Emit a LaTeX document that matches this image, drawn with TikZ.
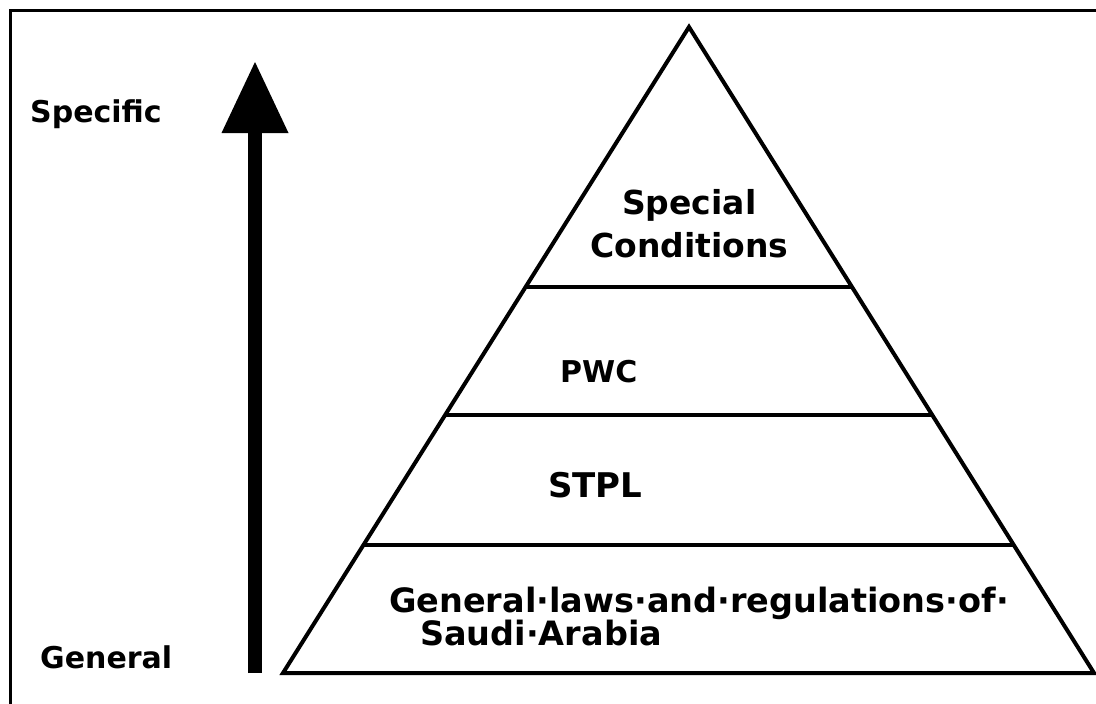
\documentclass[tikz,border=0pt]{standalone}
\usepackage{fontspec}
\setmainfont{DejaVu Sans}
\usetikzlibrary{arrows.meta,calc}
\tikzset{
  lbl/.style={anchor=base west, inner sep=0pt, font=\bfseries},
  edge/.style={line width=4pt, line join=miter},
  bigarrow/.style={line width=14pt, -{Triangle[length=71pt,width=67pt,line width=0pt]}},
}
\begin{document}
\begin{tikzpicture}[x=1pt,y=-1pt]
\useasboundingbox (0,0) rectangle (1096,704);
\clip (0,0) rectangle (1096,704);
\fill[white] (0,0) rectangle (1096,704);
% frame
\draw[line width=3pt] (10.5,10.5) rectangle (1120,730);
% pyramid
\coordinate (apex) at (689,27);
\coordinate (bl) at (283,673);
\coordinate (br) at (1094,673);
\draw[edge] (bl) -- (apex) -- (br) -- cycle;
\coordinate (l1) at ($(apex)!0.4025!(bl)$);
\coordinate (r1) at ($(apex)!0.4025!(br)$);
\coordinate (l2) at ($(apex)!0.6006!(bl)$);
\coordinate (r2) at ($(apex)!0.6006!(br)$);
\coordinate (l3) at ($(apex)!0.8019!(bl)$);
\coordinate (r3) at ($(apex)!0.8019!(br)$);
\draw[edge] (l1) -- (r1);
\draw[edge] (l2) -- (r2);
\draw[edge] (l3) -- (r3);
% arrow
\coordinate (arrbot) at (255,673);
\coordinate (arrtop) at (255,62);
\draw[bigarrow] (arrbot) -- (arrtop);
% labels
\node[lbl, font=\bfseries\fontsize{30}{36}\selectfont] (specific) at (30,122) {Specific};
\node[lbl, font=\bfseries\fontsize{30}{36}\selectfont] (general) at (40,668) {General};
\node[lbl, font=\bfseries\fontsize{33}{40}\selectfont] (special) at (622,214) {Special};
\node[lbl, font=\bfseries\fontsize{33}{40}\selectfont] (conditions) at (590,257) {Conditions};
\node[lbl, font=\bfseries\fontsize{30}{36}\selectfont] (pwc) at (560,382) {PWC};
\node[lbl, font=\bfseries\fontsize{34}{40}\selectfont] (stpl) at (548,497) {STPL};
\node[lbl, font=\bfseries\fontsize{33.5}{40}\selectfont] (gen1) at (389,612) {General·laws·and·regulations·of·};
\node[lbl, font=\bfseries\fontsize{33.5}{40}\selectfont] (gen2) at (420,645) {Saudi·Arabia};
\end{tikzpicture}
\end{document}
